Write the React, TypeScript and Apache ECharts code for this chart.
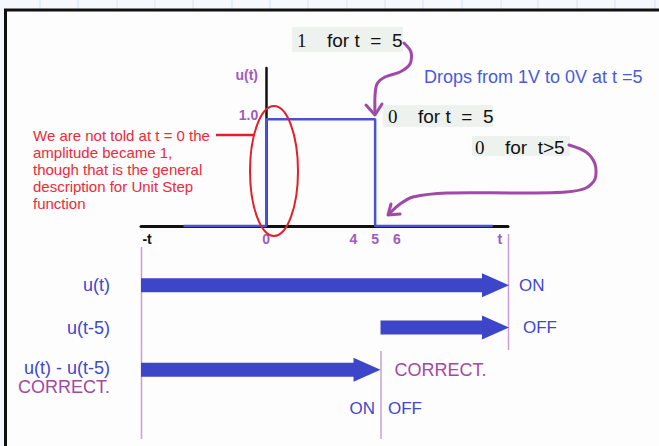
import React, { useEffect, useRef } from 'react';
import * as echarts from 'echarts';

// ---- top plot: rectangular pulse u(t) - u(t-5)
const pulseX = [-3.8, 0, 0, 5, 5, 10.4];
const pulseY = [0, 0, 1, 1, 0, 0];
const xTickValues = [-5.47, 0, 4, 5, 6, 10.73];
const xTickLabels = ['-t', '0', '4', '5', '6', 't'];
const yTickValues = [1];
const yTickLabels = ['1.0'];

// ---- bottom: on/off arrows
const rowNames = ['u(t)', 'u(t-5)', 'u(t) - u(t-5)'];
const rowNotes = ['', '', 'CORRECT.'];
const arrowStart = [-6, 5, -6];
const arrowEnd = [10.9, 10.9, 5];
const endLabels = ['ON', 'OFF', 'CORRECT.'];

// ---- annotations
const redNote = [
  'We are not told at t = 0 the',
  'amplitude became 1,',
  'though that is the general',
  'description for Unit Step',
  'function',
];
const dropsNote = 'Drops from 1V to 0V at t =5';

const BLUE = '#3f48cc';
const PURPLE = '#a349a4';
const TICK_PURPLE = '#9f5bbf';
const RED = '#ec2a3a';
const SANS = "'Liberation Sans', Arial, sans-serif";
const SERIF = "'Liberation Serif', 'Times New Roman', serif";

const bgGridX = [40, 78, 117, 155, 193, 232, 270, 308, 347, 385, 423, 462, 501, 538, 577, 615, 655];

const X_MIN = -5.75;
const X_MAX = 11.1;
const GRID_LEFT = 141;
const GRID_W = 367;

export default function App() {
  const ref = useRef<HTMLDivElement>(null);

  useEffect(() => {
    if (!ref.current) return;
    const chart = echarts.init(ref.current, undefined, { renderer: 'svg' });

    const graphic: any[] = [];
    // outer page strip
    graphic.push({ type: 'rect', z: -10, shape: { x: 0, y: 0, width: 659, height: 9 }, style: { fill: '#f5f8fc' } });
    graphic.push({ type: 'rect', z: -10, shape: { x: 0, y: 0, width: 4, height: 446 }, style: { fill: '#f5f8fc' } });
    bgGridX.forEach((x) =>
      graphic.push({ type: 'line', z: -9, shape: { x1: x, y1: 0, x2: x, y2: 9 }, style: { stroke: '#d6e3f3', lineWidth: 1 } })
    );
    // frame
    graphic.push({ type: 'line', shape: { x1: 4, y1: 10, x2: 659, y2: 10 }, style: { stroke: '#111', lineWidth: 3 } });
    graphic.push({ type: 'line', shape: { x1: 5.5, y1: 9, x2: 5.5, y2: 446 }, style: { stroke: '#111', lineWidth: 3 } });

    // red note
    graphic.push({
      type: 'text',
      x: 33,
      y: 126.5,
      style: { text: redNote.join('\n'), fill: RED, font: `15px ${SANS}`, lineHeight: 17, verticalAlign: 'top' },
    });
    graphic.push({ type: 'line', shape: { x1: 216, y1: 135, x2: 254, y2: 135 }, style: { stroke: '#e41e2a', lineWidth: 2.5 } });
    graphic.push({
      type: 'ellipse',
      z: 10,
      shape: { cx: 274, cy: 171, rx: 24, ry: 65 },
      style: { fill: 'none', stroke: '#e41e2a', lineWidth: 2 },
    });

    // u(t) axis title
    graphic.push({
      type: 'text',
      x: 258,
      y: 75,
      style: { text: 'u(t)', fill: TICK_PURPLE, font: `bold 14px ${SANS}`, align: 'right', verticalAlign: 'middle' },
    });

    // formula boxes
    const box = (bx: number, by: number, bw: number, bh: number, numX: number, txtX: number, cy: number, num: string, txt: string) => {
      graphic.push({ type: 'rect', shape: { x: bx, y: by, width: bw, height: bh }, style: { fill: '#edf2ee' } });
      graphic.push({ type: 'text', x: numX, y: cy, style: { text: num, fill: '#111', font: `19px ${SERIF}`, verticalAlign: 'middle' } });
      graphic.push({ type: 'text', x: txtX, y: cy, style: { text: txt, fill: '#111', font: `19px ${SANS}`, verticalAlign: 'middle' } });
    };
    box(292, 27, 111, 25, 297, 327, 40, '1', 'for t  =  5');
    box(383, 105, 110, 22, 388, 418, 116, '0', 'for t  =  5');
    box(472, 136, 98, 20, 475, 505, 147, '0', 'for  t>5');

    graphic.push({
      type: 'text',
      x: 424,
      y: 77,
      style: { text: dropsNote, fill: '#4a5ad8', font: `18px ${SANS}`, verticalAlign: 'middle' },
    });

    // purple curved arrows
    const pStyle = { stroke: '#a04aa8', lineWidth: 3, fill: 'none', lineJoin: 'round', lineCap: 'round' };
    graphic.push({
      type: 'polyline',
      z: 12,
      shape: { points: [[404, 43], [411, 52], [410, 64], [400, 72], [385, 77], [377, 84], [375, 96], [375, 113]], smooth: 0.3 },
      style: pStyle,
    });
    graphic.push({ type: 'polyline', z: 12, shape: { points: [[366, 105], [375, 115], [382, 104]] }, style: pStyle });
    graphic.push({
      type: 'polyline',
      z: 12,
      shape: {
        points: [[569, 145], [586, 152], [595, 164], [595, 179], [586, 188], [566, 192], [520, 193], [447, 193], [413, 197], [400, 204], [390, 213]],
        smooth: 0.3,
      },
      style: pStyle,
    });
    graphic.push({ type: 'polyline', z: 12, shape: { points: [[391, 204], [388, 215], [400, 214]] }, style: pStyle });

    // purple guide lines in the lower diagram
    const gl = { stroke: '#c99fd2', lineWidth: 1.5 };
    graphic.push({ type: 'line', shape: { x1: 141.5, y1: 247, x2: 141.5, y2: 439 }, style: gl });
    graphic.push({ type: 'line', shape: { x1: 508.5, y1: 234, x2: 508.5, y2: 350 }, style: gl });
    graphic.push({ type: 'line', shape: { x1: 381, y1: 351, x2: 381, y2: 439 }, style: gl });

    // ON | OFF under the difference arrow
    graphic.push({ type: 'text', x: 375, y: 408, style: { text: 'ON', fill: BLUE, font: `17px ${SANS}`, align: 'right', verticalAlign: 'middle' } });
    graphic.push({ type: 'text', x: 388, y: 408, style: { text: 'OFF', fill: BLUE, font: `17px ${SANS}`, verticalAlign: 'middle' } });

    // place the y axis at t = 0
    const yAxisOffset = -((0 - X_MIN) / (X_MAX - X_MIN)) * GRID_W;

    const option: any = {
      animation: false,
      backgroundColor: '#fdfdfd',
      grid: [
        { left: GRID_LEFT, width: GRID_W, top: 68, height: 158 },
        { left: 141, width: 368, top: 264, height: 127 },
      ],
      xAxis: [
        {
          type: 'value',
          gridIndex: 0,
          min: X_MIN,
          max: X_MAX,
          splitLine: { show: false },
          axisTick: { show: false },
          axisLine: { show: true, lineStyle: { color: '#111', width: 3 } },
          axisLabel: {
            customValues: xTickValues,
            margin: 6,
            color: TICK_PURPLE,
            fontWeight: 'bold',
            fontSize: 14,
            fontFamily: SANS,
            formatter: (v: number) => {
              const i = xTickValues.indexOf(v);
              const t = i >= 0 ? xTickLabels[i] : '';
              return i === 0 ? `{k|${t}}` : t;
            },
            rich: { k: { color: '#111', fontWeight: 'bold', fontSize: 14, fontFamily: SANS } },
          },
        },
        { type: 'value', gridIndex: 1, min: -6, max: 10.9, show: false },
      ],
      yAxis: [
        {
          type: 'value',
          gridIndex: 0,
          min: 0,
          max: 1.48,
          offset: yAxisOffset,
          splitLine: { show: false },
          axisTick: { show: false },
          axisLine: { show: true, onZero: false, lineStyle: { color: '#111', width: 2.5 } },
          axisLabel: {
            customValues: yTickValues,
            margin: 8,
            formatter: (v: number) => {
              const i = yTickValues.indexOf(v);
              return i >= 0 ? `{a|${yTickLabels[i]}}` : '';
            },
            rich: {
              a: { color: TICK_PURPLE, fontWeight: 'bold', fontSize: 14, fontFamily: SANS, padding: [0, 0, 8, 0] },
            },
          },
        },
        {
          type: 'category',
          gridIndex: 1,
          inverse: true,
          data: rowNames.map((n, i) => (i === 2 ? { value: n, textStyle: { padding: [15, 0, 0, 0] } } : n)),
          axisLine: { show: false },
          axisTick: { show: false },
          splitLine: { show: false },
          axisLabel: {
            margin: 31,
            color: BLUE,
            fontSize: 18,
            fontFamily: SANS,
            lineHeight: 19,
            formatter: (v: string, i: number) => (rowNotes[i] ? `${v}\n{c|${rowNotes[i]}}` : v),
            rich: { c: { color: PURPLE, fontSize: 18, fontFamily: SANS, lineHeight: 19 } },
          },
        },
      ],
      series: [
        {
          type: 'line',
          xAxisIndex: 0,
          yAxisIndex: 0,
          data: pulseX.map((x, i) => [x, pulseY[i]]),
          showSymbol: false,
          clip: false,
          lineStyle: { color: '#4a52d4', width: 2.5 },
          z: 3,
        },
        {
          type: 'custom',
          xAxisIndex: 1,
          yAxisIndex: 1,
          data: rowNames.map((_, i) => [arrowStart[i], arrowEnd[i], i]),
          encode: { x: [0, 1], y: 2 },
          clip: false,
          renderItem: (params: any, api: any) => {
            const i = api.value(2);
            const s = api.coord([api.value(0), i]);
            const e = api.coord([api.value(1), i]);
            const y = s[1];
            const hl = 27;
            const sh = 7;
            const hh = 12;
            const x0 = s[0];
            const x1 = e[0];
            return {
              type: 'group',
              children: [
                {
                  type: 'polygon',
                  shape: {
                    points: [
                      [x0, y - sh],
                      [x1 - hl, y - sh],
                      [x1 - hl, y - hh],
                      [x1, y],
                      [x1 - hl, y + hh],
                      [x1 - hl, y + sh],
                      [x0, y + sh],
                    ],
                  },
                  style: { fill: '#3d46c8' },
                },
                {
                  type: 'text',
                  x: x1 + (i === 0 ? 10 : 14),
                  y: y,
                  style: {
                    text: endLabels[i],
                    fill: i === 2 ? PURPLE : BLUE,
                    font: `${i === 2 ? 18 : 17}px ${SANS}`,
                    verticalAlign: 'middle',
                    align: 'left',
                  },
                },
              ],
            };
          },
        },
      ],
      graphic,
    };

    chart.setOption(option);
    return () => chart.dispose();
  }, []);

  return <div ref={ref} style={{ position: 'fixed', left: 0, top: 0, width: 659, height: 446 }} />;
}
